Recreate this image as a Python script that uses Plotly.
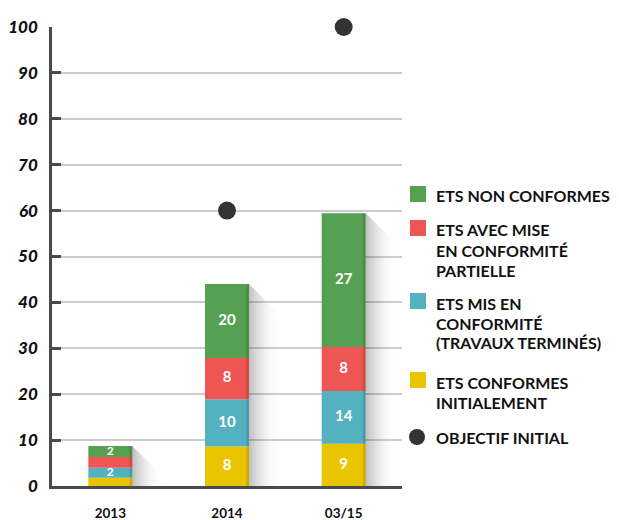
import numpy as np
import plotly.graph_objects as go

# categories and stacked series (bottom to top), heights
periods = ["2013", "2014", "03/15"]
conformes_init = [1.8, 8.6, 9.2]
mis_conformite = [2.2, 10.3, 11.5]
mise_partielle = [2.3, 9.0, 9.6]
non_conformes = [2.4, 16.1, 29.1]

# printed labels on the segments ('' = no label)
lbl_conformes_init = ["", "8", "9"]
lbl_mis_conformite = ["2", "10", "14"]
lbl_mise_partielle = ["", "8", "8"]
lbl_non_conformes = ["2", "20", "27"]

objectif = [None, 60, 100]

series_names = [
    "ETS CONFORMES<br>INITIALEMENT",
    "ETS MIS EN<br>CONFORMITÉ<br>(TRAVAUX TERMINÉS)",
    "ETS AVEC MISE<br>EN CONFORMITÉ<br>PARTIELLE",
    "ETS NON CONFORMES",
]
objectif_name = "OBJECTIF INITIAL"

y_ticks = [0, 10, 20, 30, 40, 50, 60, 70, 80, 90, 100]

colors = ["#ebc400", "#53b1c0", "#ee5553", "#55a053"]
dot_color = "#333333"
font = "Lato"

series = [conformes_init, mis_conformite, mise_partielle, non_conformes]
labels = [lbl_conformes_init, lbl_mis_conformite, lbl_mise_partielle, lbl_non_conformes]
xpos = np.arange(len(periods))
bar_w = 0.377

# the page adds an 8px body margin, so the figure starts 8px in from the window edge
OFF = 8
W, H = 619 - OFF, 520 - OFF
L, R, T, B = 52, 402, 27, 486  # plot area in screen pixels

fig = go.Figure()

# shadows behind each bar
tops = np.sum(np.array(series), axis=0)
for i, top in zip(xpos, tops):
    x0 = i + bar_w / 2
    d = 0.27
    fig.add_trace(go.Scatter(
        x=[x0, x0 + d, x0 + d, x0, x0], y=[top, top - 6.8, 0, 0, top],
        mode="lines", line=dict(width=0), fill="toself",
        fillgradient=dict(type="horizontal",
                          colorscale=[[0, "rgba(0,0,0,0.25)"], [1, "rgba(255,255,255,0)"]]),
        hoverinfo="skip", showlegend=False))

# stacked bars
base = np.zeros(len(periods))
for vals, lbls, name, col in zip(series, labels, series_names, colors):
    vals = np.array(vals)
    fig.add_trace(go.Bar(x=xpos, y=vals, base=base, width=bar_w,
                         marker=dict(color=col, line=dict(width=0)),
                         name=name, showlegend=False, hoverinfo="skip"))
    # darker side strip
    fig.add_trace(go.Bar(x=xpos + bar_w / 2 - 0.012, y=vals, base=base, width=0.024,
                         marker=dict(color="rgba(0,0,0,0.12)", line=dict(width=0)),
                         showlegend=False, hoverinfo="skip"))
    fig.add_trace(go.Scatter(x=xpos, y=base + vals / 2, mode="text", text=lbls,
                             textfont=dict(family=font, size=[12, 15, 15], color="white", weight="bold"),
                             showlegend=False, hoverinfo="skip"))
    base = base + vals

fig.add_trace(go.Scatter(x=xpos, y=objectif, mode="markers", name=objectif_name, cliponaxis=False,
                         marker=dict(size=18, color=dot_color), showlegend=False, hoverinfo="skip"))

fig.update_layout(
    barmode="overlay",
    width=W, height=H,
    margin=dict(l=L - OFF, r=W - (R - OFF), t=T - OFF, b=H - (B - OFF)),
    paper_bgcolor="white", plot_bgcolor="white",
    font=dict(family=font, color="#111"),
)
fig.update_xaxes(range=[-0.5, 2.5], tickvals=xpos, ticktext=periods, showgrid=False, automargin=False,
                 showline=True, linecolor="#4a4a4a", linewidth=2.5, ticks="",
                 tickfont=dict(family=font, size=13.5, weight="bold", color="#111"),
                 ticklabelstandoff=13, zeroline=False)
fig.update_yaxes(range=[0, 100], tickvals=y_ticks, showgrid=True, gridcolor="#cccccc", gridwidth=1.5,
                 showline=True, linecolor="#4a4a4a", linewidth=2.5, ticks="inside", ticklen=9,
                 automargin=False,
                 tickwidth=2.5, tickcolor="#4a4a4a", zeroline=False, ticklabelstandoff=8,
                 tickfont=dict(family=font, size=17, weight=900, style="italic", color="#111"))

# custom legend to the right of the plot area (positions in screen pixels)
def px_x(px):
    return (px - L) / (R - L)

def px_y(py):
    return (B - py) / (B - T)

legend_rows = [(series_names[3], colors[3], 196), (series_names[2], colors[2], 230),
               (series_names[1], colors[1], 303), (series_names[0], colors[0], 382),
               (objectif_name, dot_color, 437)]
for k, (name, col, yline) in enumerate(legend_rows):
    if k == len(legend_rows) - 1:
        fig.add_shape(type="circle", xref="paper", yref="paper", x0=px_x(409), x1=px_x(425),
                      y0=px_y(445), y1=px_y(429), fillcolor=col, line=dict(width=0))
    else:
        fig.add_shape(type="rect", xref="paper", yref="paper", x0=px_x(410), x1=px_x(426),
                      y0=px_y(yline + 6), y1=px_y(yline - 10), fillcolor=col, line=dict(width=0))
    for j, line in enumerate(name.split("<br>")):
        fig.add_annotation(xref="paper", yref="paper", x=px_x(434), y=px_y(yline + j * 20),
                           xanchor="left", yanchor="middle", align="left", showarrow=False, text=line,
                           font=dict(family=font, size=16, weight="bold", color="#111"))

fig.write_html("out.html")
